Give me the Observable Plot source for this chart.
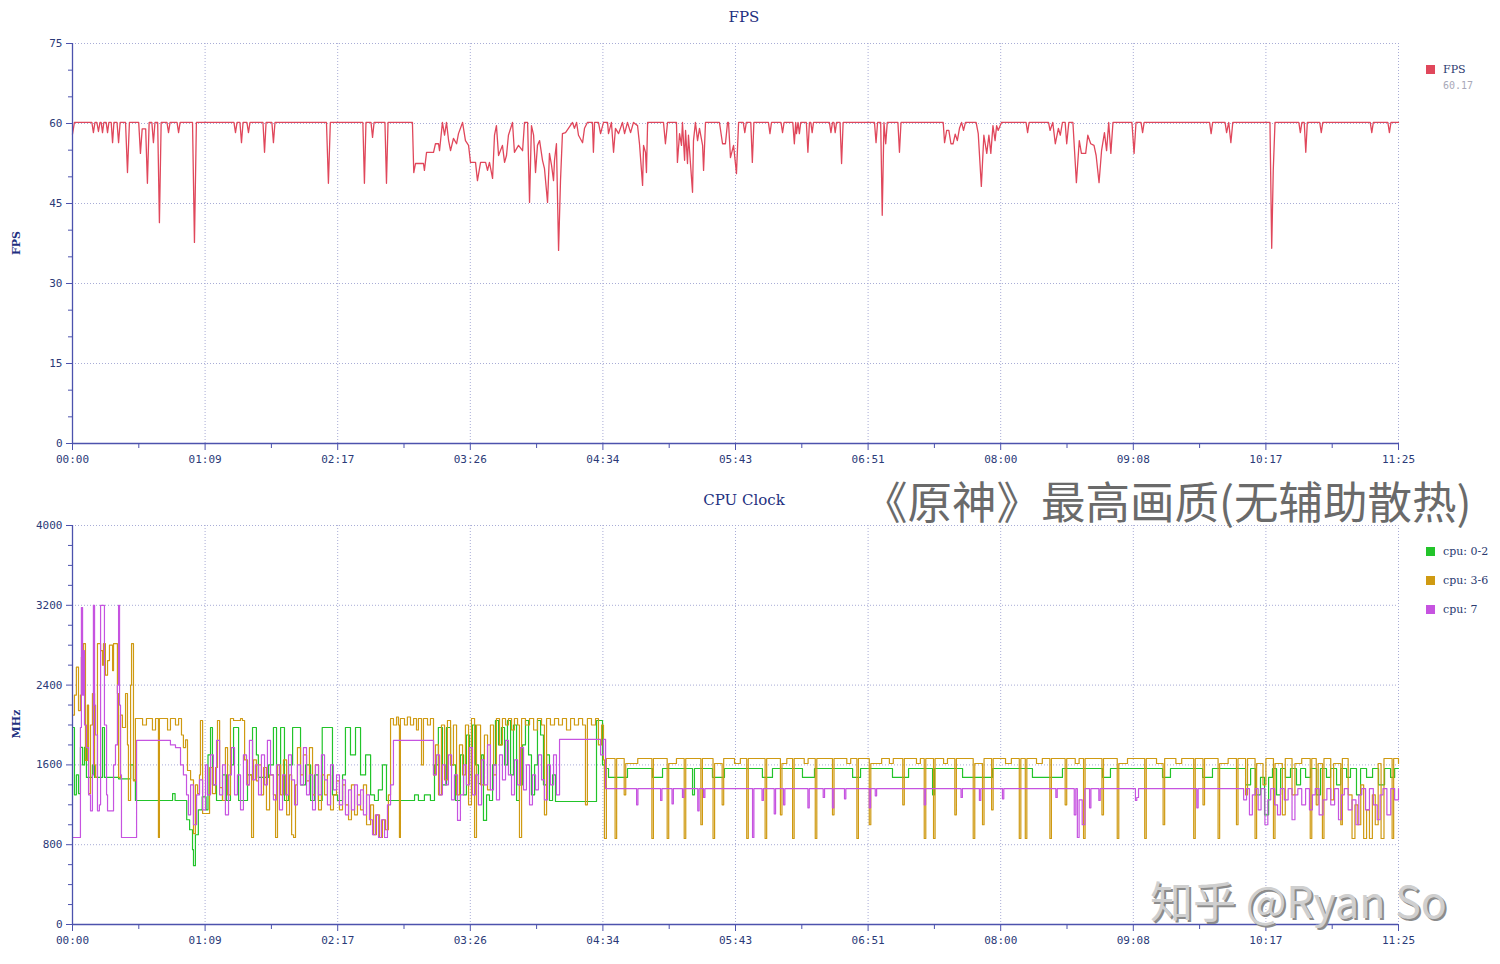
<!DOCTYPE html>
<html><head><meta charset="utf-8">
<script src="https://cdn.jsdelivr.net/npm/d3@7"></script>
<script src="https://cdn.jsdelivr.net/npm/@observablehq/plot@0.6"></script>
<style>
body{margin:0;background:#fff;width:1500px;height:964px;overflow:hidden;position:relative}
#c1,#c2{position:absolute;left:0}
#c1{top:0}#c2{top:482px}
.t{position:absolute;white-space:nowrap}
.title{font-family:"DejaVu Serif",serif;font-size:15px;color:#1e3080;transform:translate(-50%,-50%)}
.ylab{font-family:"DejaVu Serif",serif;font-size:11px;font-weight:bold;color:#1e3080;transform:translate(-50%,-50%) rotate(-90deg)}
.sw{position:absolute;width:9px;height:9px}
.lg{font-family:"DejaVu Serif",serif;font-size:11px;color:#2b3a70;transform:translateY(-50%)}
.wm{line-height:1;font-family:'Noto Sans CJK SC';transform:translateY(-50%)}
</style></head><body>
<div id="c1"></div><div id="c2"></div>
<div class="t title" style="left:744px;top:17px">FPS</div>
<div class="t title" style="left:744px;top:500px">CPU Clock</div>
<div class="t ylab" style="left:16px;top:243px">FPS</div>
<div class="t ylab" style="left:16px;top:724px">MHz</div>
<div id="leg1"></div><div id="leg2"></div>
<div class="t wm" style="left:863px;top:500px;font-size:44.5px;color:#6a6a6a">《原神》最高画质(无辅助散热)</div>
<div class="t wm" style="left:1150px;top:899px;font-size:43px;color:#cfcfcf;text-shadow:2px 2px 0 #8c8c8c">知乎 @Ryan So</div>
<script>
// ---- axis ticks (seconds) ----
const xMajor = [0, 68.5, 137, 205.5, 274, 342.5, 411, 479.5, 548, 616.5, 685];
const xLabels = ["00:00","01:09","02:17","03:26","04:34","05:43","06:51","08:00","09:08","10:17","11:25"];
const xMinor = [34.25, 102.75, 171.25, 239.75, 308.25, 376.75, 445.25, 513.75, 582.25, 650.75];
const fpsTicks = [0, 15, 30, 45, 60, 75];
const fpsMinor = [5, 10, 20, 25, 35, 40, 50, 55, 65, 70];
const mhzTicks = [0, 800, 1600, 2400, 3200, 4000];
const mhzMinor = [200,400,600,1000,1200,1400,1800,2000,2200,2600,2800,3000,3400,3600,3800];

// ---- legend ----
const fpsSeriesName = "FPS";
const fpsAverage = "60.17";
const cpuNames = ["cpu: 0-2", "cpu: 3-6", "cpu: 7"];
const cpuColors = ["#22c42a", "#cf9a12", "#c653e0"];
const fpsColor = "#e0475b";

// ---- FPS series [seconds, fps] ----
const fps = [[0,58],[1,60.2],[10,60.2],[10.8,58.3],[11.6,60.2],[12.6,60.2],[13.4,58.5],[14.2,60.2],[14.8,60.2],[15.5,58.3],[16.2,60.2],[17.4,60.2],[18.1,58.3],[18.8,60.2],[20,60.2],[20.7,56.4],[21.4,60.2],[23,60.2],[23.8,56.4],[24.6,60.2],[27.4,60.2],[28.4,50.8],[29.4,60.2],[34.2,60.2],[35.1,54.4],[36,59],[37.8,59],[38.7,48.8],[39.6,60.2],[41,60.2],[41.8,56.4],[42.6,60.2],[44,60.2],[44.9,41.4],[45.8,60.2],[48.8,60.2],[49.6,58.3],[50.4,60.2],[54,60.2],[54.8,58.3],[55.6,60.2],[62,60.2],[63,37.7],[64,60.2],[83.4,60.2],[84.2,58.3],[85,60.2],[86.5,60.2],[87.3,56.4],[88.1,60.2],[90.1,60.2],[90.9,58.3],[91.7,60.2],[98.4,60.2],[99.2,54.6],[100,60.2],[103,60.2],[103.8,56.4],[104.6,60.2],[131.2,60.2],[132.2,48.8],[133.2,60.2],[150,60.2],[150.8,48.8],[151.6,60.2],[154.2,60.2],[155,57.4],[155.8,60.2],[161.4,60.2],[162.2,48.8],[163,60.2],[175.6,60.2],
[176.3,50.8],[177.2,52.5],[181.3,52.5],[181.8,51.2],[182.9,54.6],[186.5,54.6],[187.5,56.2],[189.1,56.2],[189.6,54.9],[191.1,60.2],[192.2,57.8],[193.2,60.2],[194.3,56.8],[195.3,54.9],[196.8,57.2],[198.4,56.2],[199.4,58.1],[201.5,60.2],[203,56.8],[204.6,55.9],[205.6,52.7],[208.2,52.7],[209.2,49.3],[210.8,52.7],[213.4,52.7],[214.4,51.2],[215.4,52.7],[217,49.7],[218,57.8],[219,59.6],[220.1,54],[222.1,55.9],[223.2,52.7],[224.2,54],[225.2,57.8],[227.3,60.2],[228.3,54.6],[230.4,55.9],[232.5,54.9],[233.5,60.2],[235.1,60.2],[236.1,45.2],[237.1,59.6],[238.2,57.8],[239.2,50.8],[240.2,55.9],[241.3,56.8],[242.8,53.1],[243.8,51.6],[245.4,45.2],[246.4,54.4],[247.5,52.1],[248.5,49.3],[249,53.1],[250,56.2],[251.1,36.2],[252.1,49.3],[253.1,58.1],[254.7,58.3],[256.2,59.1],[258.3,60.2],[259.3,59.1],[260.4,60.2],[261.4,57.8],[263.5,56.4],[264.5,59.1],[266,60.2],[268.6,60.2],[269.1,54.6],[269.7,60.2],[271.7,60.2],[272.8,58.1],[274.3,60.2],[276.4,60.2],[276.9,58.1],[278.4,60.2],[279.5,54.6],[280.5,59.1],[282.1,58.1],[284.1,60.2],[285.2,58.1],[286.7,60.2],[288.3,58.3],[289.8,60.2],[291.9,59.6],[292.9,56.2],[294.5,48.4],[295,55.9],[296,54.6],[296.5,50.8],[297.1,60.2],[305.3,60.2],[306.3,56.2],[307.4,60.2],[312,60.2],[312.5,52.7],[313.6,58.1],[314.6,55.9],[315.1,60.2],[316.2,53.1],[316.7,58.7],[317.7,52.5],[318.2,57.8],[320.3,47.1],[320.8,56.8],[321.8,60.2],[322.9,56.8],[323.9,59.1],[325.5,55.9],[326,51.2],[327,60.2],[334.2,60.2],[335.8,56.2],[337.3,56.2],[338.4,60.2],[338.9,60.2],[339.9,53.6],[341.5,55.9],[343,50.6],[344.1,60.2],[346.5,60.2],[347.3,58.3],[348.1,60.2],[350.4,60.2],[351.2,52.7],[352,60.2],
[359.5,60.2],[360.3,58.1],[361.1,60.2],[366,60.2],[366.8,58.3],[367.6,60.2],[372.1,60.2],[372.9,56.2],[373.6,60.2],[374,58.1],[374.8,60.2],[375.5,58.1],[376.2,60.2],[379.1,60.2],[379.9,54.6],[380.7,60.2],[381.4,60.2],[382.1,58.3],[382.8,60.2],[391,60.2],[391.8,58.3],[392.6,60.2],[393.3,60.2],[394,58.3],[394.7,60.2],[396.5,60.2],[397.3,52.5],[398.1,60.2],[414.3,60.2],[415.1,56.4],[415.9,60.2],[417.5,60.2],[418.3,42.8],[419.2,60.2],[420.1,56.2],[420.9,60.2],[426.4,60.2],[427.2,54.6],[428,60.2],[449.8,60.2],[450.5,56.4],[451.6,58.7],[452.7,58.7],[453.8,56.2],[454.9,56.2],[456,58],[457.1,56.8],[458.2,59.1],[459.3,60.2],[460.3,58.7],[461.3,60.2],[466.8,60.2],[467.9,58.1],[469.5,48.2],[470.8,57.8],[472.3,54.4],[473.4,57.8],[474.4,54.4],[475.5,59.6],[476.6,56.8],[477.4,59.6],[478.2,58.7],[479.9,60.2],[492.6,60.2],[493.4,58.3],[494.2,60.2],[504.2,60.2],[505,58.7],[506.4,60.2],[507.7,56.2],[509.3,59.1],[510.3,57.8],[511.4,60.2],[512.8,60.2],[513.6,56.2],[514.7,60.2],[516.8,60.2],[518.6,48.9],[520.1,56.8],[521.2,54.4],[523.4,54.4],[524.5,57.8],[526,56.2],[527.7,55.9],[528.8,54],[530.3,48.9],[531.6,54.9],[533.1,58.3],[534.2,54.9],[535.3,60.2],[536.4,54.4],[537.5,60.2],[547.3,60.2],[548.4,54.4],[549.4,60.2],[552,60.2],[552.8,58.3],[553.6,60.2],[587.4,60.2],[588.2,58.1],[589,60.2],[595.4,60.2],[596.2,58.3],[597.3,60.2],[598.4,56.4],[599.4,60.2],[618.6,60.2],[619.5,36.6],[620.3,51.2],[621.2,60.2],[633.5,60.2],[634.3,58.3],[635.1,60.2],[636.3,60.2],[637.1,54.6],[637.9,60.2],[644.3,60.2],[645.1,58.3],[645.9,60.2],[670.4,60.2],[671.2,58.3],[672,60.2],[679.5,60.2],[680.3,58.3],[681.1,60.2],[685,60.2]];

// ---- CPU clock series [seconds, MHz] ----
const cpu02 = [[0,1975],[1,1300],[2,1500],[3.1,1313],[4.1,1775],[5.2,1600],[6.2,1775],[7.2,1474],[9.3,1474],[10.3,1600],[11.4,1474],[14.5,1474],[15.5,1975],[16.5,1474],[22.2,1474],[23.8,1460],[27.4,1460],[30,1600],[31.5,1450],[32.5,1243],[50.6,1243],[51.7,1313],[53,1243],[57.3,1243],[59,1050],[60.5,950],[62,750],[62.5,590],[63.5,900],[65,1150],[67,1280],[69,1150],[70,1700],[71.3,1975],[72.3,1400],[74.4,1243],[77.5,1500],[79.6,1243],[81.6,1600],[83.2,1975],[84.7,1975],[85.8,1243],[88.3,1243],[90.4,1500],[93,1975],[95,1700],[96,1474],[99.2,1474],[101.3,1600],[103.8,1975],[105.4,1500],[107.5,1975],[109.5,1243],[111.6,1600],[113.7,1975],[115.7,1975],[117.8,1400],[120.4,1600],[123,1243],[125,1500],[127,1243],[129,1975],[132.2,1975],[134.3,1300],[136.9,1243],[139.5,1500],[141,1975],[143.6,1700],[146.2,1975],[148.8,1500],[151.4,1700],[154,1300],[156,1243],[158,1350],[160.1,1600],[162.2,1243],[174.6,1243],[176.7,1300],[178.7,1243],[181.8,1300],[184.9,1243],[187,1600],[189,1975],[191.1,1400],[193.2,1975],[195.3,1600],[197.9,1243],[200.4,1700],[202,1300],[203.5,1900],[205.1,1500],[206.6,2000],[208.2,1600],[209.7,1413],[211.3,1700],[212.3,1043],[213.9,1300],[215.4,1243],[217,1600],[218.5,2045],[220.1,1800],[221.6,1975],[223.2,1600],[224.7,2045],[226.3,1500],[227.8,2000],[229.4,1243],[230.9,1400],[232.5,1800],[234,2045],[235.6,1700],[237.1,1300],[238.7,1600],[240.2,2045],[241.8,1900],[243.3,1400],[244.9,1700],[246.4,1243],[248,1500],[249.5,1233],[269.1,1233],[270.7,2045],[272.8,2045],[273.8,1600],
[274.8,1564],[276.9,1474],[285.7,1474],[286.7,1564],[298.6,1564],[299.6,1474],[303.8,1474],[304.8,1564],[319.3,1564],[320.3,1300],[321.3,1564],[329.6,1564],[330.6,1474],[335.8,1474],[336.8,1564],[355.4,1564],[356.4,1474],[360.6,1474],[361.6,1564],[376.1,1564],[377.1,1474],[382.3,1474],[383.3,1564],[401.9,1564],[403,1474],[406.1,1474],[407.1,1564],[422.6,1564],[423.6,1474],[430.8,1474],[431.9,1564],[443.3,1564],[444.3,1300],[445.3,1564],[458.8,1564],[459.8,1474],[474.2,1474],[475.3,1564],[494.9,1564],[495.9,1474],[510.4,1474],[511.4,1564],[531.1,1564],[532.1,1474],[535.2,1474],[536.2,1564],[562.1,1564],[563.1,1474],[566.2,1474],[567.2,1564],[582.7,1564],[583.8,1474],[587.9,1474],[588.9,1564],[603.4,1564],[606,1400],[608.6,1564],[611.1,1300],[613.7,1474],[615.8,1100],[617.9,1474],[619.9,1564],[622,1300],[624.1,1564],[626.6,1474],[629.2,1564],[632.3,1400],[634.4,1564],[637,1474],[639.6,1564],[642.7,1300],[644.7,1564],[647.8,1474],[649.9,1564],[653,1400],[655.1,1564],[658.2,1474],[660.2,1564],[663.3,1300],[665.4,1564],[668.5,1474],[671.6,1564],[674.7,1400],[677.8,1564],[680.9,1474],[683,1564],[685,1564]];

const cpu36 = [[0,2100],[1,2300],[2,2580],[3.1,2145],[4.1,2300],[4.6,2680],[5.7,2815],[6.7,1645],[7.7,2200],[8.3,1313],[9.3,2000],[10.3,2316],[11.4,1600],[11.9,1474],[12.9,2815],[14.5,2746],[15.5,2600],[16,2815],[17,2500],[18.1,2646],[19.1,2800],[20.7,2546],[21.2,2815],[22.2,2815],[23.2,2316],[23.8,1474],[24.8,2100],[25.8,1975],[27.4,2316],[28.4,1800],[28.9,1243],[30,2400],[30.5,2815],[31.5,1440],[32.5,2065],[35.1,2065],[36.2,2000],[38.2,2065],[40.3,2065],[41.3,1950],[42.9,2065],[43.9,2065],[44.4,872],[44.9,2065],[48,2065],[49.1,1950],[50.6,2065],[53.2,2000],[54.8,2065],[56.3,1900],[57.3,1774],[58.4,1850],[59.4,1544],[61,1450],[62.5,912],[63.5,1400],[64.6,1313],[65.6,1500],[66.1,2045],[67.2,1113],[69.7,1113],[70.8,1574],[72.3,1313],[73.9,1574],[74.9,2045],[76,1373],[77.5,1243],[79,1774],[80.1,1300],[81.6,2065],[83.2,2045],[85.8,2045],[86.8,2065],[87.8,2045],[88.9,1650],[90.4,1400],[91.4,1500],[92.5,872],[93.5,1650],[95,1440],[96.1,1600],[97.6,1300],[98.7,1574],[100.2,1150],[101.8,1500],[103.8,1300],[104.9,872],[105.9,1600],[107.5,1300],[109,1650],[110.6,1100],[112.1,1500],[113.2,900],[114.2,872],[115.2,1400],[116.2,1774],[117.8,1500],[119.3,1700],[120.9,1440],[122.4,1774],[124,1300],[125.5,1600],[127.1,1150],[128.6,1500],[130.2,1300],[131.7,1500],[133.3,1150],[134.8,1300],[136.4,1440],[137.9,1150],[139.5,1400],[141,1200],[142.6,1050],[144.1,1400],[145.7,1100],[147.2,1300],[148.8,1150],[150.3,1400],[151.9,1000],[154,1200],[155.5,900],[157,1100],[158.6,872],[160.1,1050],[161.7,950],[163.2,1300],[164.3,2065],[165.8,2000],[167.4,2080],[168.4,2000],[168.9,872],[169.4,2065],[171.5,2000],[173,2080],[174.6,2000],[176.2,2065],[177.7,1950],[178.7,2065],[180.3,1600],[181.3,2065],[183.4,2000],[184.9,2065],[186.5,1500],[187.5,1800],[189.1,1300],[190.6,2000],[192.2,1450],[193.7,2045],[195.3,1600],[196.8,2000],[198.4,1300],[199.9,1800],[201.5,1500],[203,2000],[204.6,1200],[206.1,2065],[207.7,872],[208.7,2000],[210.8,1400],[212.8,1900],[214.4,1350],[215.9,2000],[217.5,1500],[219,2065],[220.6,1800],[222.1,2065],[223.7,2000],[225.2,2065],[226.8,1950],[228.3,2065],[229.9,2000],[230.9,872],[232,2065],[234,2000],[236.1,2065],[238.2,1950],[240.2,2065],[242.3,2000],[243.8,1100],[244.9,2065],[246.9,2000],[249,2065],[251.1,2000],[253.1,2065],[255.2,1950],[257.3,2065],[259.3,2000],[261.4,2065],[263.5,2000],[265,1200],[266,2065],[268.1,2000],[270.2,2065],[271.7,1800],[273.3,2000],[274.3,1650],
[274.8,862],[275.8,1664],[280.3,862],[281.1,1664],[285,1300],[285.8,1614],[292,1664],[299.3,862],[300.1,1664],[307.2,862],[308,1614],[312,1664],[316,862],[316.8,1664],[324.6,1000],[325.4,1664],[330.9,862],[331.7,1614],[335.6,1200],[336.4,1664],[342,1614],[345,1664],[348.3,862],[349.1,1664],[357.8,862],[358.6,1664],[365.7,1100],[366.5,1614],[369,1664],[372,862],[372.8,1664],[378,1614],[380,1664],[383.7,862],[384.5,1664],[392.6,1100],[393.4,1664],[400,1614],[402,1664],[405.2,862],[406,1664],[411.6,1000],[412.4,1614],[418,1664],[422,1614],[424,1664],[428.9,1200],[429.7,1664],[436,1614],[438,1664],[440,862],[440.8,1664],[444.8,862],[445.6,1664],[450,1614],[452,1664],[455.8,1100],[456.6,1664],[465.3,862],[466.1,1614],[470.1,1000],[470.9,1664],[474.8,1150],[475.6,1664],[482,1614],[485,1664],[489.1,862],[489.9,1664],[492.2,862],[493,1664],[498,1614],[501,1664],[504.9,862],[505.7,1664],[512.8,1200],[513.6,1664],[518,1614],[520,1664],[522.3,862],[523.1,1664],[531.8,1100],[532.6,1664],[539.7,862],[540.5,1614],[545,1664],[553.9,862],[554.7,1664],[560,1614],[563.4,1000],[564.2,1664],[570,1614],[573,1664],[579.2,862],[580,1664],[584,1200],[584.8,1664],[591.8,862],[592.6,1614],[597,1664],[601.3,1000],[602.1,1664],[606,1300],[607,1664],[610.9,862],[611.7,1614],[615,1400],[616.5,1664],[620.4,862],[621.2,1614],[625,1100],[626.5,1664],[630,1300],[631.5,1614],[635,1664],[639.4,862],[640.2,1664],[642.5,1200],[643.5,1614],[645.7,862],[646.5,1664],[650,1250],[651.5,1614],[655.2,1000],[656,1664],[659,1300],[661,862],[662.5,1200],[664,1000],[665.5,1400],[667,862],[668.5,1150],[670,862],[671.5,1300],[673,1000],[674.5,1614],[676,862],[677.5,1664],[681.7,862],[682.5,1664],[685,1614]];

const cpu7 = [[0,872],[3.6,872],[4.1,1975],[4.6,3178],[5.2,2300],[5.7,2746],[6.2,2000],[7.2,1774],[8.3,1300],[9.3,1140],[10.3,1500],[10.8,3200],[11.4,2200],[11.9,1900],[12.9,1140],[13.9,1200],[14.5,3200],[16,3200],[16.5,2000],[17.6,1300],[18.1,1140],[20.7,1140],[21.2,1600],[22.2,1800],[23.2,2400],[23.8,3200],[24.3,2200],[24.8,1500],[25.3,872],[32.5,872],[33.1,1845],[49.6,1845],[50.6,1800],[53.2,1774],[55.8,1600],[57.3,1500],[58.9,1300],[59.9,1100],[61,1400],[62.5,1000],[64.1,1300],[65.6,1450],[67.2,1150],[68.7,1600],[69.7,1300],[71.3,1700],[72.8,1400],[74.4,1845],[76,1300],[77.5,1600],[79,1100],[80.6,1500],[82.1,1774],[83.7,1300],[85.2,1500],[86.8,1150],[88.3,1700],[89.9,1400],[91.4,1845],[93,1450],[94.5,1600],[96.1,1300],[97.6,1700],[99.2,1400],[100.7,1845],[102.3,1500],[103.8,1250],[105.4,1600],[106.9,1150],[108.5,1500],[110,1300],[111.6,1700],[113.1,1450],[114.7,1200],[116.2,1600],[117.8,1400],[119.3,1774],[120.9,1300],[122.4,1500],[124,1150],[125.5,1600],[127.1,1300],[128.6,1700],[130.2,1450],[131.7,1200],[133.3,1600],[134.8,1350],[136.4,1500],[137.9,1200],[139.5,1450],[141,1100],[142.6,1350],[144.1,1150],[145.7,1400],[147.2,1200],[148.8,1350],[150.3,1100],[151.9,1300],[153.4,1050],[155,900],[156.5,1100],[158.1,872],[159.6,1050],[161.2,872],[162.7,1200],[164.3,1400],[165.8,1845],[184.9,1845],[186.5,1500],[188,1700],[189.6,1300],[191.1,1600],[192.7,1400],[194.2,1700],[195.8,1250],[197.3,1500],[198.9,1043],[200.4,1300],[202,1600],[203.5,1400],[205.1,1774],[206.6,1300],[208.2,1500],[209.7,1200],[211.3,1650],[212.8,1400],[214.4,1800],[215.9,1350],[217.5,1600],[219,1250],[220.6,1700],[222.1,1450],[223.7,1845],[225.2,1500],[226.8,1300],[228.3,1650],[229.9,1400],[231.4,1774],[233,1350],[234.5,1600],[236.1,1200],[237.6,1500],[239.2,1350],[240.7,1700],[242.3,1450],[243.8,1250],[245.4,1600],[246.9,1400],[248.5,1700],[250,1300],[251.6,1855],[270.7,1855],[272.8,1700],[274.3,1855],
[275.4,1363],[291.4,1200],[292.1,1363],[303.8,1243],[304.5,1363],[309.7,1210],[310.4,1363],[315.1,1273],[315.8,1363],[323,1140],[323.7,1363],[326,1273],[326.7,1363],[351.3,872],[352,1363],[356.2,1243],[356.9,1363],[362.5,1110],[363.2,1363],[367.3,1200],[368,1363],[379.9,1170],[380.6,1363],[387.8,1273],[388.5,1363],[392.6,1170],[393.3,1363],[398.8,1260],[399.5,1363],[411.6,1170],[412.3,1363],[414.7,1290],[415.4,1363],[440,1200],[440.7,1363],[459,1273],[459.7,1363],[468.5,1243],[469.2,1363],[480.4,1260],[481.1,1363],[508,1273],[508.7,1363],[517.5,1100],[518.3,1363],[519.1,872],[520,1250],[521.6,1000],[523,1363],[525.4,1170],[526.1,1363],[530.2,1243],[530.9,1363],[549.1,1243],[549.8,1273],[550.7,1363],[580.8,1170],[581.5,1363],[605,1250],[606.5,1363],[608,1100],[609.5,1300],[611,1363],[612.5,1150],[614,1363],[616,1000],[617.5,1250],[619,1363],[621,1200],[622.5,1100],[624,1363],[626,1250],[628,1363],[630,1050],[631.5,1300],[633,1363],[635,1200],[637,1363],[639,1150],[640.5,1300],[642,1363],[644,1100],[646,1250],[648,1363],[650,1200],[652,1363],[654,1050],[655.5,1300],[657,1363],[659,1150],[661,1250],[663,1000],[664.5,1300],[666,1363],[668,1150],[670,1363],[672,1200],[674,1050],[675.5,1300],[677,1363],[679,1100],[681,1363],[683,1250],[685,1363]];

// ---- styling ----
const axisC = "#4c52ad", labelC = "#2b3a78", gridC = "#a8acd6";
const fontTick = "'DejaVu Sans Mono', monospace";

function frame(yTicks) {
  return [
    Plot.gridX(xMajor, {stroke: gridC, strokeOpacity: 1, strokeDasharray: "1,2"}),
    Plot.gridY(yTicks.filter(d => d > 0), {stroke: gridC, strokeOpacity: 1, strokeDasharray: "1,2"}),
  ];
}
function axes(yTicks, yMinor) {
  return [
    Plot.ruleX([0], {stroke: axisC, strokeWidth: 1.3}),
    Plot.ruleY([0], {stroke: axisC, strokeWidth: 1.6}),
    Plot.axisY(yTicks, {tickSize: 6, tickPadding: 4, tickFormat: d => String(d), stroke: axisC, fill: labelC, label: null, fontFamily: fontTick}),
    Plot.axisY(yMinor, {tickSize: 4, tickFormat: () => "", stroke: axisC, label: null}),
    Plot.axisX(xMajor, {tickSize: 7, tickPadding: 5, tickFormat: d => xLabels[xMajor.indexOf(d)], stroke: axisC, fill: labelC, label: null, fontFamily: fontTick}),
    Plot.axisX(xMinor, {tickSize: 5, tickFormat: () => "", stroke: axisC, label: null})
  ];
}
const styleObj = {fontSize: "11px", fontFamily: fontTick, background: "transparent", overflow: "visible"};

const p1 = Plot.plot({
  width: 1500, height: 480, marginTop: 43, marginBottom: 37, marginLeft: 72, marginRight: 102,
  x: {domain: [0, 685]}, y: {domain: [0, 75]},
  style: styleObj,
  marks: [
    ...frame(fpsTicks),
    Plot.line(fps, {x: d => d[0], y: d => d[1], stroke: fpsColor, strokeWidth: 1.3}),
    ...axes(fpsTicks, fpsMinor)
  ]
});
document.getElementById("c1").append(p1);

const cpuSeries = [cpu02, cpu36, cpu7];
const p2 = Plot.plot({
  width: 1500, height: 482, marginTop: 43, marginBottom: 40, marginLeft: 72, marginRight: 102,
  x: {domain: [0, 685]}, y: {domain: [0, 4000]},
  style: styleObj,
  marks: [
    ...frame(mhzTicks),
    ...cpuSeries.map((s, i) => Plot.line(s, {x: d => d[0], y: d => d[1], stroke: cpuColors[i], strokeWidth: 1.2, curve: "step-after"})),
    ...axes(mhzTicks, mhzMinor)
  ]
});
document.getElementById("c2").append(p2);

// legends
function legendItem(parent, color, text, top) {
  const sw = document.createElement("div");
  sw.className = "sw"; sw.style.left = "1426px"; sw.style.top = (top - 4.5) + "px"; sw.style.background = color;
  const tx = document.createElement("div");
  tx.className = "t lg"; tx.style.left = "1443px"; tx.style.top = top + "px"; tx.textContent = text;
  parent.append(sw, tx);
}
const leg1 = document.getElementById("leg1");
legendItem(leg1, fpsColor, fpsSeriesName, 69);
const avg = document.createElement("div");
avg.className = "t"; avg.style.cssText = "left:1443px;top:85px;transform:translateY(-50%);font-family:'DejaVu Sans Mono',monospace;font-size:10px;color:#a8a8b8";
avg.textContent = fpsAverage; leg1.append(avg);
const leg2 = document.getElementById("leg2");
cpuNames.forEach((n, i) => legendItem(leg2, cpuColors[i], n, 551 + i * 29));
</script>
</body></html>
